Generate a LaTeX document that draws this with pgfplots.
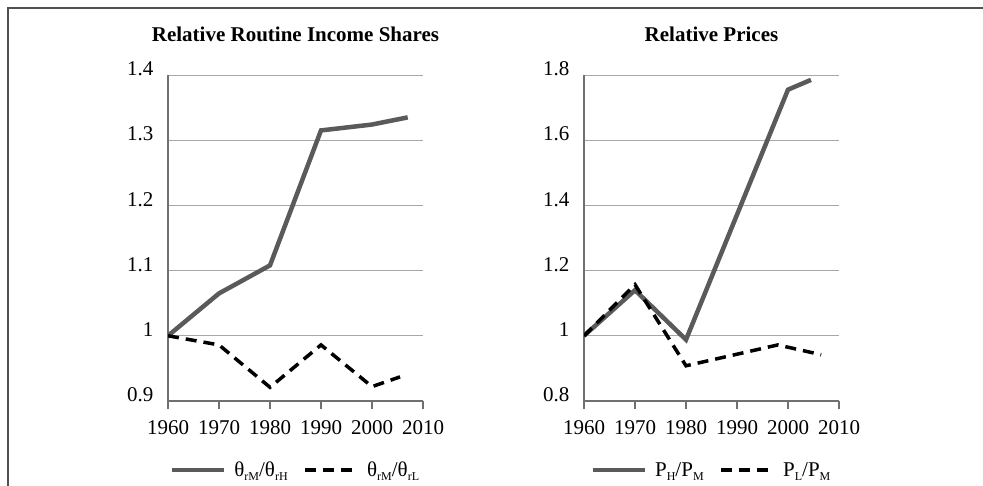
\documentclass[border=0pt]{standalone}
\usepackage{fontspec}
\setmainfont{Liberation Serif}
\usepackage{pgfplots}
\pgfplotsset{compat=1.18}
\definecolor{lineg}{HTML}{5A5A5A}
\definecolor{gridg}{HTML}{A8A8A8}
\definecolor{axg}{HTML}{707070}
\definecolor{frameg}{HTML}{505050}
\newcommand{\sub}[1]{\raisebox{-0.45ex}{\fontsize{12}{13}\selectfont #1}}
\pgfplotsset{myax/.style={
  scale only axis, width=255pt, height=326pt,
  xmin=1960, xmax=2010, xtick={1960,1970,1980,1990,2000,2010},
  axis lines*=left, axis line style={axg, line width=1.3pt},
  ymajorgrids, grid style={gridg, line width=0.7pt},
  tick align=outside, major tick length=8pt,
  xtick style={axg, line width=1.3pt}, ytick style={draw=none},
  /pgf/number format/assume math mode=true,
  /pgf/number format/1000 sep={},
  ticklabel style={font=\fontsize{21}{24}\selectfont},
  yticklabel style={anchor=east, xshift=-3pt, yshift=6pt},
  xticklabel style={anchor=north, yshift=-8pt},
  title style={font=\bfseries\fontsize{21}{24}\selectfont, at={(0.5,1)}, anchor=center, yshift=35pt},
  legend columns=2,
  legend style={draw=none, fill=none, at={(0.5,0)}, anchor=center, yshift=-69pt,
    font=\fontsize{21}{24}\selectfont,
    /tikz/every odd column/.append style={column sep=6pt},
    /tikz/every even column/.append style={column sep=14pt}},
  legend image code/.code={\draw[#1] (0pt,0pt) -- (52pt,0pt);},
  solidl/.style={lineg, line width=4.5pt, line join=miter},
  dashl/.style={black, line width=3.5pt, dash pattern=on 11pt off 7pt},
}}
\begin{document}
\begin{tikzpicture}
\useasboundingbox (0pt,0pt) rectangle (983pt,486pt);
\draw[frameg, line width=1.3pt] (8pt,0pt) -- (8pt,478pt) -- (983pt,478pt);
\begin{axis}[myax, at={(168pt,85pt)}, anchor=south west,
  ymin=0.9, ymax=1.4, ytick={0.9,1,1.1,1.2,1.3,1.4},
  title={Relative Routine Income Shares}]
\addplot[solidl] coordinates {(1960,1.0) (1970,1.065) (1980,1.108) (1990,1.315) (2000,1.324) (2007,1.335)};
\addlegendentry{θ\sub{rM}/θ\sub{rH}}
\addplot[dashl] coordinates {(1960,1.0) (1970,0.986) (1980,0.921) (1990,0.986) (2000,0.922) (2005.5,0.937)};
\addlegendentry{θ\sub{rM}/θ\sub{rL}}
\end{axis}
\begin{axis}[myax, at={(584pt,85pt)}, anchor=south west,
  ymin=0.8, ymax=1.8, ytick={0.8,1,1.2,1.4,1.6,1.8},
  title={Relative Prices}]
\addplot[solidl] coordinates {(1960,1.0) (1970,1.14) (1980,0.988) (2000,1.755) (2004.5,1.785)};
\addlegendentry{P\sub{H}/P\sub{M}}
\addplot[dashl] coordinates {(1960,1.0) (1970,1.157) (1980,0.908) (1998,0.972) (2006.5,0.942)};
\addlegendentry{P\sub{L}/P\sub{M}}
\end{axis}
\end{tikzpicture}
\end{document}
